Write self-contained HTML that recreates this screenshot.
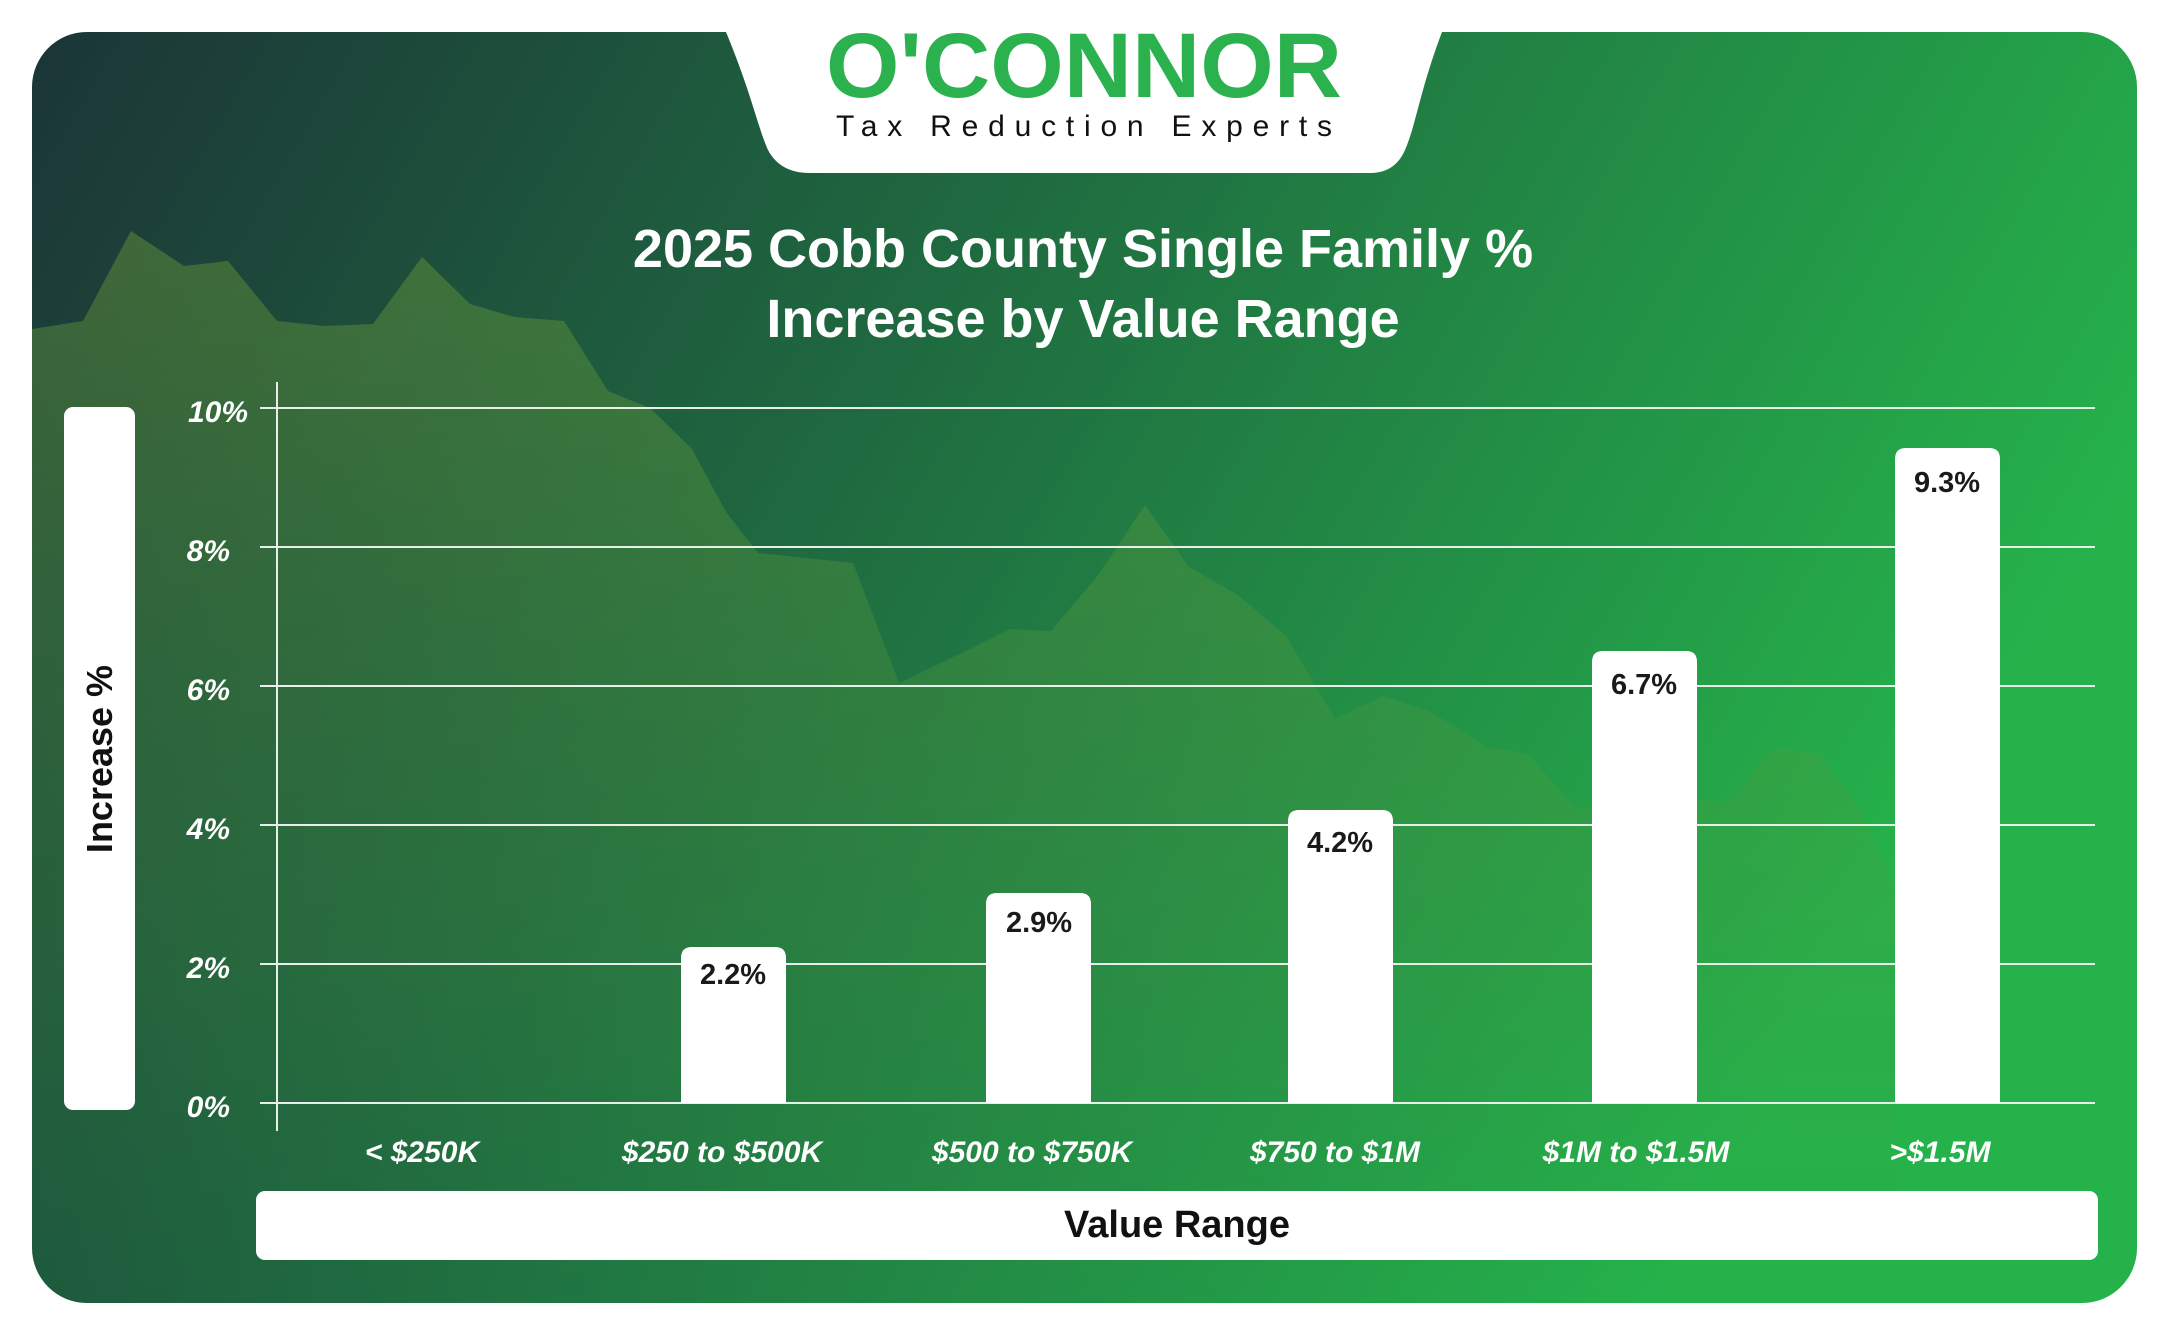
<!DOCTYPE html>
<html><head><meta charset="utf-8"><style>
html,body{margin:0;padding:0;background:#fff;}
svg{display:block;}
text{font-family:"Liberation Sans",sans-serif;}
</style></head><body>
<svg width="2167" height="1333" viewBox="0 0 2167 1333" xmlns="http://www.w3.org/2000/svg">
<defs>
<linearGradient id="bg" x1="0" y1="0" x2="1" y2="0.35">
<stop offset="0" stop-color="#1b3537"/>
<stop offset="0.45" stop-color="#1f6a40"/>
<stop offset="1" stop-color="#25b24b"/>
</linearGradient>
<linearGradient id="mt" x1="0" y1="0" x2="0" y2="1">
<stop offset="0" stop-color="#6b9a3a" stop-opacity="0.45"/>
<stop offset="0.7" stop-color="#4a9a40" stop-opacity="0.2"/>
<stop offset="1" stop-color="#3a9a40" stop-opacity="0"/>
</linearGradient>
<clipPath id="card"><rect x="32" y="32" width="2105" height="1271" rx="55"/></clipPath>
</defs>
<rect x="32" y="32" width="2105" height="1271" rx="55" fill="url(#bg)"/>
<g clip-path="url(#card)">
<path fill="url(#mt)" d="M32,329 L83,321 L131,231 L184,266 L228,261 L277,321 L325,326 L373,324 L422,257 L470,304 L514,317 L564,321 L608,391 L650,408 L692,449 L726,512 L758,553 L853,563 L899,683 L968,650 L1010,629 L1051,631 L1099,574 L1145,505 L1189,567 L1238,595 L1286,636 L1335,719 L1383,696 L1431,712 L1487,747 L1528,754 L1577,809 L1625,802 L1680,799 L1729,802 L1774,747 L1819,754 L1860,809 L1900,900 L1900,1303 L32,1303 Z"/>
</g>
<path fill="#fff" d="M726,32 C752,95 758,128 768,150 Q780,173 810,173 L1370,173 Q1395,173 1405,150 C1416,125 1420,90 1442,32 Z"/>
<text x="826" y="97" font-size="92" font-weight="bold" fill="#2bb14e" textLength="516" lengthAdjust="spacingAndGlyphs">O'CONNOR</text>
<text x="836" y="136" font-size="30" fill="#111" textLength="496" lengthAdjust="spacing">Tax Reduction Experts</text>
<text x="1083" y="267" font-size="54" font-weight="bold" fill="#fff" text-anchor="middle">2025 Cobb County Single Family %</text>
<text x="1083" y="337" font-size="54" font-weight="bold" fill="#fff" text-anchor="middle">Increase by Value Range</text>
<g stroke="#e8efe8" stroke-width="2">
<line x1="260" y1="408" x2="2095" y2="408"/>
<line x1="260" y1="547" x2="2095" y2="547"/>
<line x1="260" y1="686" x2="2095" y2="686"/>
<line x1="260" y1="825" x2="2095" y2="825"/>
<line x1="260" y1="964" x2="2095" y2="964"/>
<line x1="260" y1="1103" x2="2095" y2="1103"/>
<line x1="277" y1="382" x2="277" y2="1131"/>
</g>
<g font-size="30" font-weight="bold" font-style="italic" fill="#fff" text-anchor="end">
<text x="248" y="422">10%</text>
<text x="230" y="561">8%</text>
<text x="230" y="700">6%</text>
<text x="230" y="839">4%</text>
<text x="230" y="978">2%</text>
<text x="230" y="1117">0%</text>
</g>
<rect x="64" y="407" width="71" height="703" rx="9" fill="#fff"/>
<text transform="translate(112,759) rotate(-90)" font-size="36" font-weight="bold" fill="#111" text-anchor="middle">Increase %</text>
<g fill="#fff">
<path d="M681,1103 V958 q0,-11 11,-11 h83 q11,0 11,11 V1103 Z"/>
<path d="M986,1103 V904 q0,-11 11,-11 h83 q11,0 11,11 V1103 Z"/>
<path d="M1288,1103 V821 q0,-11 11,-11 h83 q11,0 11,11 V1103 Z"/>
<path d="M1592,1103 V662 q0,-11 11,-11 h83 q11,0 11,11 V1103 Z"/>
<path d="M1895,1103 V459 q0,-11 11,-11 h83 q11,0 11,11 V1103 Z"/>
</g>
<g font-size="29" font-weight="bold" fill="#1a1a1a" text-anchor="middle">
<text x="733" y="984">2.2%</text>
<text x="1039" y="932">2.9%</text>
<text x="1340" y="852">4.2%</text>
<text x="1644" y="694">6.7%</text>
<text x="1947" y="492">9.3%</text>
</g>
<g font-size="30" font-weight="bold" font-style="italic" fill="#fff" text-anchor="middle">
<text x="422" y="1162">&lt; $250K</text>
<text x="722" y="1162">$250 to $500K</text>
<text x="1032" y="1162">$500 to $750K</text>
<text x="1335" y="1162">$750 to $1M</text>
<text x="1636" y="1162">$1M to $1.5M</text>
<text x="1940" y="1162">&gt;$1.5M</text>
</g>
<rect x="256" y="1191" width="1842" height="69" rx="9" fill="#fff"/>
<text x="1177" y="1237" font-size="38" font-weight="bold" fill="#111" text-anchor="middle">Value Range</text>
</svg>
</body></html>
